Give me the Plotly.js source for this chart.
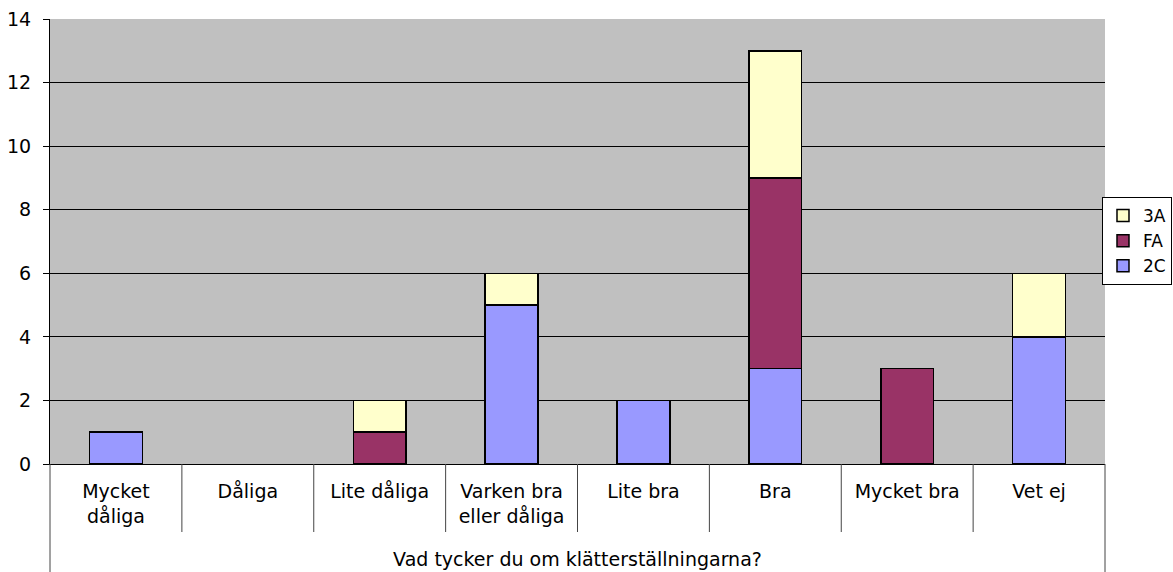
<!DOCTYPE html>
<html>
<head>
<meta charset="utf-8">
<script src="https://cdn.plot.ly/plotly-3.0.1.min.js"></script>
<style>html,body{margin:0;padding:0;background:#fff;}#chart{width:1173px;height:572px;}</style>
</head>
<body>
<div id="chart"></div>
<script>
const categories = ["Mycket<br>dåliga", "Dåliga", "Lite dåliga", "Varken bra<br>eller dåliga", "Lite bra", "Bra", "Mycket bra", "Vet ej"];
const values2C = [1, null, null, 5, 2, 3, null, 4];
const valuesFA = [null, null, 1, null, null, 6, 3, null];
const values3A = [null, null, 1, 1, null, 4, null, 2];
const xTitle = "Vad tycker du om klätterställningarna?";

const font = {family: "DejaVu Sans, Verdana, sans-serif", size: 19, color: "#000"};
const legendFont = {family: "DejaVu Sans, Verdana, sans-serif", size: 17, color: "#000"};
const line = {color: "#000", width: 1.5};

const traces = [
  {name: "2C", y: values2C, marker: {color: "#9999FF", line: line}},
  {name: "FA", y: valuesFA, marker: {color: "#993366", line: line}},
  {name: "3A", y: values3A, marker: {color: "#FFFFCC", line: line}}
].map(t => Object.assign({type: "bar", x: categories, hoverinfo: "none"}, t));

const shapes = [];
for (let i = 0; i < categories.length - 1; i++) {
  shapes.push({type: "line", xref: "x", yref: "paper", x0: i + 0.5, x1: i + 0.5, y0: 0, y1: -68/445,
    line: {color: "#444", width: 1}});
}
shapes.push({type: "line", xref: "paper", yref: "paper", x0: 0, x1: 0, y0: 0, y1: -108/445, line: {color: "#444", width: 1}});
shapes.push({type: "line", xref: "paper", yref: "paper", x0: 1, x1: 1, y0: 0, y1: -108/445, line: {color: "#444", width: 1}});

const layout = {
  width: 1173, height: 572,
  margin: {l: 50, r: 68, t: 19, b: 108, pad: 0, autoexpand: false},
  paper_bgcolor: "#fff",
  plot_bgcolor: "#C0C0C0",
  font: font,
  barmode: "stack",
  bargap: 0.6,
  showlegend: true,
  legend: {
    x: 1.0635, xanchor: "right", y: 0.6, yanchor: "top",
    bgcolor: "#fff", bordercolor: "#000", borderwidth: 1,
    traceorder: "reversed", font: legendFont, itemwidth: 30
  },
  xaxis: {
    type: "category", categoryarray: categories, categoryorder: "array",
    showgrid: false, ticks: "", showline: true, linecolor: "#000", linewidth: 1,
    tickfont: font, ticklabelstandoff: 10,
    title: {text: xTitle, font: font, standoff: 27},
    automargin: false, fixedrange: true
  },
  yaxis: {
    range: [0, 14], dtick: 2,
    showgrid: true, gridcolor: "#000", gridwidth: 1,
    zeroline: true, zerolinecolor: "#000", zerolinewidth: 1,
    showline: true, linecolor: "#000", linewidth: 1,
    ticks: "outside", ticklen: 6, tickcolor: "#000", tickwidth: 1,
    tickfont: font, ticklabelstandoff: 8,
    automargin: false, fixedrange: true
  },
  shapes: shapes
};

Plotly.newPlot("chart", traces, layout, {staticPlot: true, displayModeBar: false});
</script>
</body>
</html>
